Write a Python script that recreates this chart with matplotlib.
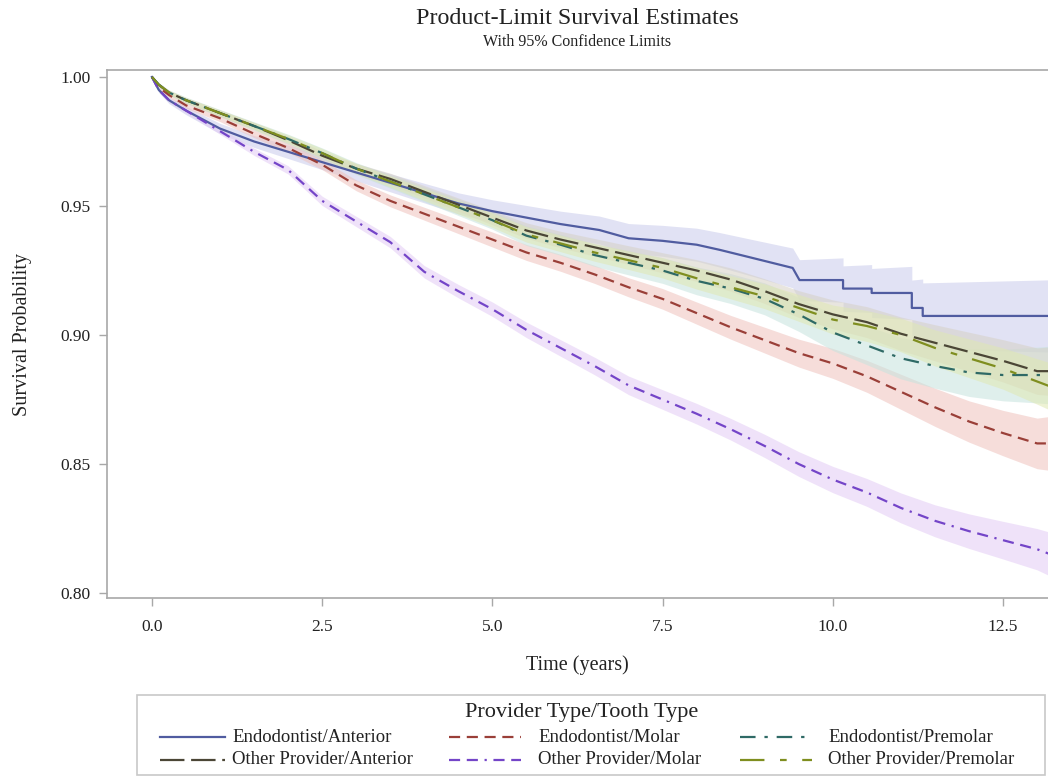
import matplotlib
matplotlib.use('Agg')
import matplotlib.pyplot as plt
from matplotlib.lines import Line2D
from matplotlib.patches import Rectangle

plt.rcParams['font.family'] = ['Liberation Serif', 'DejaVu Serif']

# common time grid (years) for the dense curves
t = [0, 0.1, 0.25, 0.5, 1, 1.5, 2, 2.5, 3, 3.5, 4, 4.5, 5, 5.5, 6, 6.5,
     7, 7.5, 8, 8.5, 9, 9.5, 10, 10.5, 11, 11.5, 12, 12.5, 13, 13.2]

endo_molar = [1.0, 0.996, 0.993, 0.989, 0.984, 0.978, 0.9725, 0.966, 0.958, 0.952,
              0.947, 0.942, 0.937, 0.932, 0.928, 0.9235, 0.9185, 0.914, 0.9085, 0.903,
              0.898, 0.893, 0.889, 0.884, 0.878, 0.872, 0.8665, 0.862, 0.858, 0.858]
endo_molar_ci = [0, 0.0007, 0.0009, 0.0011, 0.0013, 0.0015, 0.0017, 0.0019, 0.0021, 0.0023,
                 0.0025, 0.0027, 0.0029, 0.0031, 0.0033, 0.0035, 0.0037, 0.004, 0.0043, 0.0046,
                 0.005, 0.0054, 0.0058, 0.0062, 0.0068, 0.0074, 0.008, 0.0088, 0.0098, 0.0105]

endo_premolar = [1.0, 0.997, 0.994, 0.991, 0.986, 0.981, 0.976, 0.9705, 0.9645, 0.9595,
                 0.9545, 0.9495, 0.9445, 0.9385, 0.935, 0.931, 0.928, 0.925, 0.921, 0.918,
                 0.914, 0.908, 0.901, 0.896, 0.891, 0.888, 0.8855, 0.8845, 0.8845, 0.8845]
endo_premolar_ci = [0, 0.0008, 0.001, 0.0012, 0.0014, 0.0016, 0.0018, 0.002, 0.0023, 0.0026,
                    0.0029, 0.0032, 0.0035, 0.0038, 0.0041, 0.0044, 0.0047, 0.005, 0.0054, 0.0058,
                    0.0062, 0.0066, 0.007, 0.0075, 0.008, 0.0086, 0.0093, 0.01, 0.0108, 0.0112]

other_anterior = [1.0, 0.997, 0.994, 0.991, 0.986, 0.981, 0.9755, 0.9695, 0.9645, 0.9605,
                  0.9555, 0.9505, 0.9455, 0.9405, 0.937, 0.934, 0.931, 0.928, 0.925, 0.9215,
                  0.917, 0.912, 0.908, 0.905, 0.9005, 0.897, 0.8935, 0.890, 0.886, 0.886]
other_anterior_ci = [0, 0.0006, 0.0008, 0.001, 0.0012, 0.0014, 0.0016, 0.0018, 0.002, 0.0022,
                     0.0024, 0.0026, 0.0028, 0.003, 0.0032, 0.0034, 0.0036, 0.0039, 0.0042, 0.0045,
                     0.0048, 0.0052, 0.0056, 0.006, 0.0065, 0.007, 0.0076, 0.0082, 0.009, 0.0094]

other_molar = [1.0, 0.995, 0.991, 0.987, 0.979, 0.971, 0.964, 0.952, 0.944, 0.936,
               0.9245, 0.917, 0.910, 0.902, 0.895, 0.888, 0.8805, 0.875, 0.8695, 0.8635,
               0.857, 0.850, 0.844, 0.839, 0.833, 0.828, 0.824, 0.8205, 0.817, 0.815]
other_molar_ci = [0, 0.0006, 0.0008, 0.001, 0.0012, 0.0014, 0.0016, 0.0018, 0.002, 0.0022,
                  0.0024, 0.0026, 0.0028, 0.003, 0.0032, 0.0034, 0.0036, 0.0038, 0.004, 0.0042,
                  0.0045, 0.0048, 0.0051, 0.0054, 0.0058, 0.0062, 0.0067, 0.0073, 0.008, 0.0085]

other_premolar = [1.0, 0.997, 0.994, 0.991, 0.986, 0.981, 0.976, 0.9705, 0.9645, 0.9595,
                  0.9545, 0.9495, 0.9445, 0.939, 0.9355, 0.932, 0.929, 0.926, 0.922, 0.9185,
                  0.915, 0.9105, 0.906, 0.9035, 0.900, 0.895, 0.891, 0.887, 0.882, 0.880]
other_premolar_ci = [0, 0.0006, 0.0008, 0.001, 0.0012, 0.0014, 0.0016, 0.0018, 0.002, 0.0022,
                     0.0024, 0.0026, 0.0028, 0.003, 0.0032, 0.0034, 0.0036, 0.0039, 0.0042, 0.0045,
                     0.0048, 0.0052, 0.0056, 0.006, 0.0065, 0.007, 0.0075, 0.008, 0.0088, 0.0092]

# Endodontist/Anterior has fewer events; repeated times are its visible drops
t_ea = [0, 0.1, 0.25, 0.5, 1.0, 1.5, 2.0, 2.5, 3.0, 3.5, 4.0, 4.5, 5.0, 5.5, 6.0, 6.57,
        7.0, 7.5, 8.0, 8.34, 8.8, 9.41, 9.51, 10.15, 10.15, 10.57, 10.57, 11.16, 11.16,
        11.32, 11.32, 13.2]
endo_anterior = [1.0, 0.995, 0.991, 0.987, 0.980, 0.975, 0.971, 0.967, 0.963, 0.959, 0.955,
                 0.951, 0.948, 0.9455, 0.943, 0.9407, 0.9375, 0.9365, 0.935, 0.933, 0.930,
                 0.926, 0.9213, 0.9213, 0.918, 0.918, 0.9163, 0.9163, 0.9105, 0.9105,
                 0.9074, 0.9074]
endo_anterior_ci = [0, 0.001, 0.0013, 0.0016, 0.002, 0.0023, 0.0026, 0.0029, 0.0032, 0.0035,
                    0.0038, 0.0041, 0.0044, 0.0047, 0.005, 0.0054, 0.0057, 0.006, 0.0064,
                    0.0067, 0.0071, 0.0077, 0.0079, 0.0086, 0.0088, 0.0093, 0.0095, 0.0103,
                    0.0108, 0.0112, 0.0128, 0.014]

fig = plt.figure(figsize=(10.48, 7.76), dpi=100)
ax = fig.add_axes([107 / 1048, 1 - 598 / 776, 1 - 107 / 1048, (598 - 70) / 776])

series = [
    # label, times, surv, ci, line colour, band colour, dashes
    ('Endodontist/Anterior', t_ea, endo_anterior, endo_anterior_ci, '#505ca0', '#c9cbeb', None),
    ('Endodontist/Molar', t, endo_molar, endo_molar_ci, '#9a3f38', '#efc2bd', (5, 3)),
    ('Endodontist/Premolar', t, endo_premolar, endo_premolar_ci, '#2f6a66', '#c6e3de', (7, 4, 1.5, 4)),
    ('Other Provider/Anterior', t, other_anterior, other_anterior_ci, '#4b4636', '#d6d1c6', (11, 3)),
    ('Other Provider/Molar', t, other_molar, other_molar_ci, '#7445c8', '#e3cbf5', (5, 3, 5, 3, 1, 3)),
    ('Other Provider/Premolar', t, other_premolar, other_premolar_ci, '#7f8e1f', '#dfe8b2', (11, 7, 3, 7)),
]

for label, x, s, c, col, bcol, dash in series:
    ax.fill_between(x, [a - b for a, b in zip(s, c)], [a + b for a, b in zip(s, c)],
                    color=bcol, alpha=0.55, lw=0)

lw = 1.6
draw_order = [0, 3, 1, 4, 2, 5]
for i in draw_order:
    label, x, s, c, col, bcol, dash = series[i]
    if dash is None:
        ax.plot(x, s, color=col, lw=lw, label=label)
    else:
        ax.plot(x, s, color=col, lw=lw, dashes=dash, label=label)

ax.set_xlim(-0.66, 13.16)
ax.set_ylim(0.7981, 1.0027)
ax.set_xticks([0, 2.5, 5, 7.5, 10, 12.5])
ax.set_xticklabels(['0.0', '2.5', '5.0', '7.5', '10.0', '12.5'])
ax.set_yticks([0.80, 0.85, 0.90, 0.95, 1.00])
ax.set_yticklabels(['0.80', '0.85', '0.90', '0.95', '1.00'])
for side in ['left', 'top', 'bottom']:
    ax.spines[side].set_color('#a8a8a8')
    ax.spines[side].set_linewidth(1.2)
ax.spines['right'].set_visible(False)
ax.tick_params(colors='#a8a8a8', labelcolor='#222222', length=6, width=1, labelsize=12.5)
ax.tick_params(axis='x', pad=9)
ax.tick_params(axis='y', pad=6)

ax.set_xlabel('Time (years)', fontsize=14.5, color='#222222', labelpad=15)
ax.set_ylabel('Survival Probability', fontsize=14.5, color='#222222', labelpad=20)

fig.text(577 / 1048, 1 - 18 / 776, 'Product-Limit Survival Estimates',
         ha='center', va='center', fontsize=17.3, color='#222222')
fig.text(577 / 1048, 1 - 42 / 776, 'With 95% Confidence Limits',
         ha='center', va='center', fontsize=11.5, color='#222222')

# legend box drawn in figure pixels, laid out like the SAS legend
W, H = 1048, 776
fig.add_artist(Rectangle((137 / W, 1 - 775 / H), 908 / W, 80 / H, transform=fig.transFigure,
                         fill=False, edgecolor='#c8c8c8', lw=1.2))
fig.text(582 / W, 1 - 712 / H, 'Provider Type/Tooth Type', ha='center', va='center',
         fontsize=16, color='#222222')
cols = [(160, 225, 232), (449, 521, 538), (740, 812, 828)]
rows = [737, 760]
for k, (label, x, s, c, col, bcol, dash) in enumerate(series):
    r, ci = divmod(k, 3)
    h0, h1, tx = cols[ci]
    y = 1 - rows[r] / H
    ln = Line2D([h0 / W, h1 / W], [y, y], transform=fig.transFigure, color=col, lw=lw)
    if dash is not None:
        ln.set_dashes(dash)
    fig.add_artist(ln)
    fig.text(tx / W, y, label, ha='left', va='center', fontsize=13.5, color='#222222')

fig.savefig('out.png', dpi=100)
